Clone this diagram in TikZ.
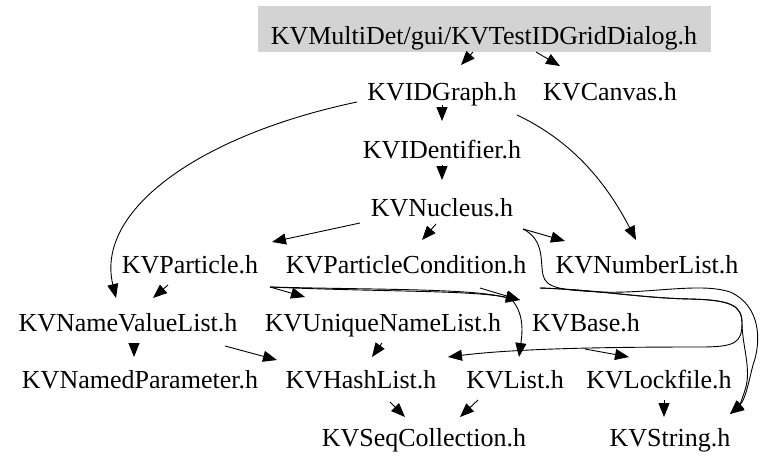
\documentclass[tikz,border=0pt]{standalone}
\usepackage{fontspec}
\setmainfont{Liberation Serif}
\usepackage{tikz}
\usetikzlibrary{arrows.meta}
\definecolor{rootgray}{RGB}{211, 211, 211}

\begin{document}
\begin{tikzpicture}[x=1pt, y=-1pt,
  hdr/.style={anchor=base, inner sep=0pt, font=\fontsize{26}{30}\selectfont},
  inc/.style={-{Triangle[length=14pt, width=11pt]}, line width=0.9pt},
]
  \useasboundingbox (0,0) rectangle (764,469);

  % Root file
  \node[hdr, fill=rootgray, minimum width=453pt, minimum height=46pt, text height=30pt, text depth=0pt] (dlg) at (484,44) {KVMultiDet/gui/KVTestIDGridDialog.h};

  % Included headers
  \node[hdr] (graph) at (442,100) {KVIDGraph.h};
  \node[hdr] (canvas) at (610,100) {KVCanvas.h};
  \node[hdr] (ident) at (442,158) {KVIDentifier.h};
  \node[hdr] (nuc) at (442,216) {KVNucleus.h};
  \node[hdr] (particle) at (190,273) {KVParticle.h};
  \node[hdr] (pcond) at (406,273) {KVParticleCondition.h};
  \node[hdr] (numlist) at (647,273) {KVNumberList.h};
  \node[hdr] (nvl) at (128,331) {KVNameValueList.h};
  \node[hdr] (unique) at (383,331) {KVUniqueNameList.h};
  \node[hdr] (kvbase) at (586,331) {KVBase.h};
  \node[hdr] (namedpar) at (140,388) {KVNamedParameter.h};
  \node[hdr] (hash) at (361,388) {KVHashList.h};
  \node[hdr] (list) at (515,388) {KVList.h};
  \node[hdr] (lock) at (659,388) {KVLockfile.h};
  \node[hdr] (seq) at (424,446) {KVSeqCollection.h};
  \node[hdr] (string) at (670,446) {KVString.h};

  % Include edges
  \draw[inc] ([shift={(-11,8)}]dlg.base) -- ([shift={(19,-35)}]graph.base);
  \draw[inc] ([shift={(52,8)}]dlg.base) -- ([shift={(-50,-34)}]canvas.base);
  \draw[inc] ([shift={(0,5)}]graph.base) -- ([shift={(0,-37)}]ident.base);
  \draw[inc] ([shift={(-85,2)}]graph.base) .. controls (200,135) and (95,210) .. ([shift={(-12,-33)}]nvl.base);
  \draw[inc] ([shift={(75,15)}]graph.base) .. controls (570,140) and (605,180) .. ([shift={(-11,-33)}]numlist.base);
  \draw[inc] ([shift={(0,7)}]ident.base) -- ([shift={(0,-36)}]nuc.base);
  \draw[inc] ([shift={(-82,7)}]nuc.base) -- ([shift={(82,-31)}]particle.base);
  \draw[inc] ([shift={(-6,8)}]nuc.base) -- ([shift={(16,-33)}]pcond.base);
  \draw[inc] ([shift={(81,13)}]nuc.base) -- ([shift={(-82,-32)}]numlist.base);

  % long way round on the right
  \draw[inc] ([shift={(81,13)}]nuc.base) .. controls (545,240) and (540,262) .. (543,275)
    .. controls (546,288) and (560,290) .. (600,292) .. controls (650,294) and (700,282) .. (730,292)
    .. controls (760,305) and (762,340) .. (753,365) .. controls (748,385) and (745,400) .. ([shift={(60,-32)}]string.base);
  \draw[inc] ([shift={(134,15)}]pcond.base) .. controls (600,290) and (640,298) .. (690,299)
    .. controls (730,300) and (742,305) .. (742,323) .. controls (742,345) and (752,370) .. (745,390)
    .. controls (742,400) and (738,408) .. ([shift={(60,-32)}]string.base);
  \draw[inc] ([shift={(134,15)}]pcond.base) .. controls (600,290) and (640,298) .. (690,299)
    .. controls (730,300) and (742,305) .. (742,323) .. controls (742,343) and (735,347) .. (700,347)
    .. controls (620,347) and (520,348) .. ([shift={(87,-31)}]hash.base);

  \draw[inc] ([shift={(80,14)}]particle.base) -- ([shift={(-78,-34)}]unique.base);
  \draw[inc] ([shift={(80,14)}]particle.base) .. controls (380,292) and (470,290) .. ([shift={(-66,-31)}]kvbase.base);
  \draw[inc] ([shift={(80,14)}]particle.base) .. controls (380,290) and (490,288) .. (512,300)
    .. controls (525,315) and (522,335) .. ([shift={(4,-31)}]list.base);
  \draw[inc] ([shift={(74,15)}]pcond.base) -- ([shift={(-66,-31)}]kvbase.base);
  \draw[inc] ([shift={(-22,12)}]particle.base) -- ([shift={(25,-33)}]nvl.base);
  \draw[inc] ([shift={(6,13)}]nvl.base) -- ([shift={(-6,-31)}]namedpar.base);
  \draw[inc] ([shift={(97,15)}]nvl.base) -- ([shift={(-84,-28)}]hash.base);
  \draw[inc] ([shift={(-1,12)}]unique.base) -- ([shift={(11,-31)}]hash.base);
  \draw[inc] ([shift={(29,14)}]hash.base) -- ([shift={(-19,-29)}]seq.base);
  \draw[inc] ([shift={(-37,12)}]list.base) -- ([shift={(36,-29)}]seq.base);
  \draw[inc] ([shift={(5,12)}]lock.base) -- ([shift={(-6,-29)}]string.base);
  \draw[inc] ([shift={(-1,18)}]kvbase.base) -- ([shift={(-30,-31)}]lock.base);
\end{tikzpicture}
\end{document}
